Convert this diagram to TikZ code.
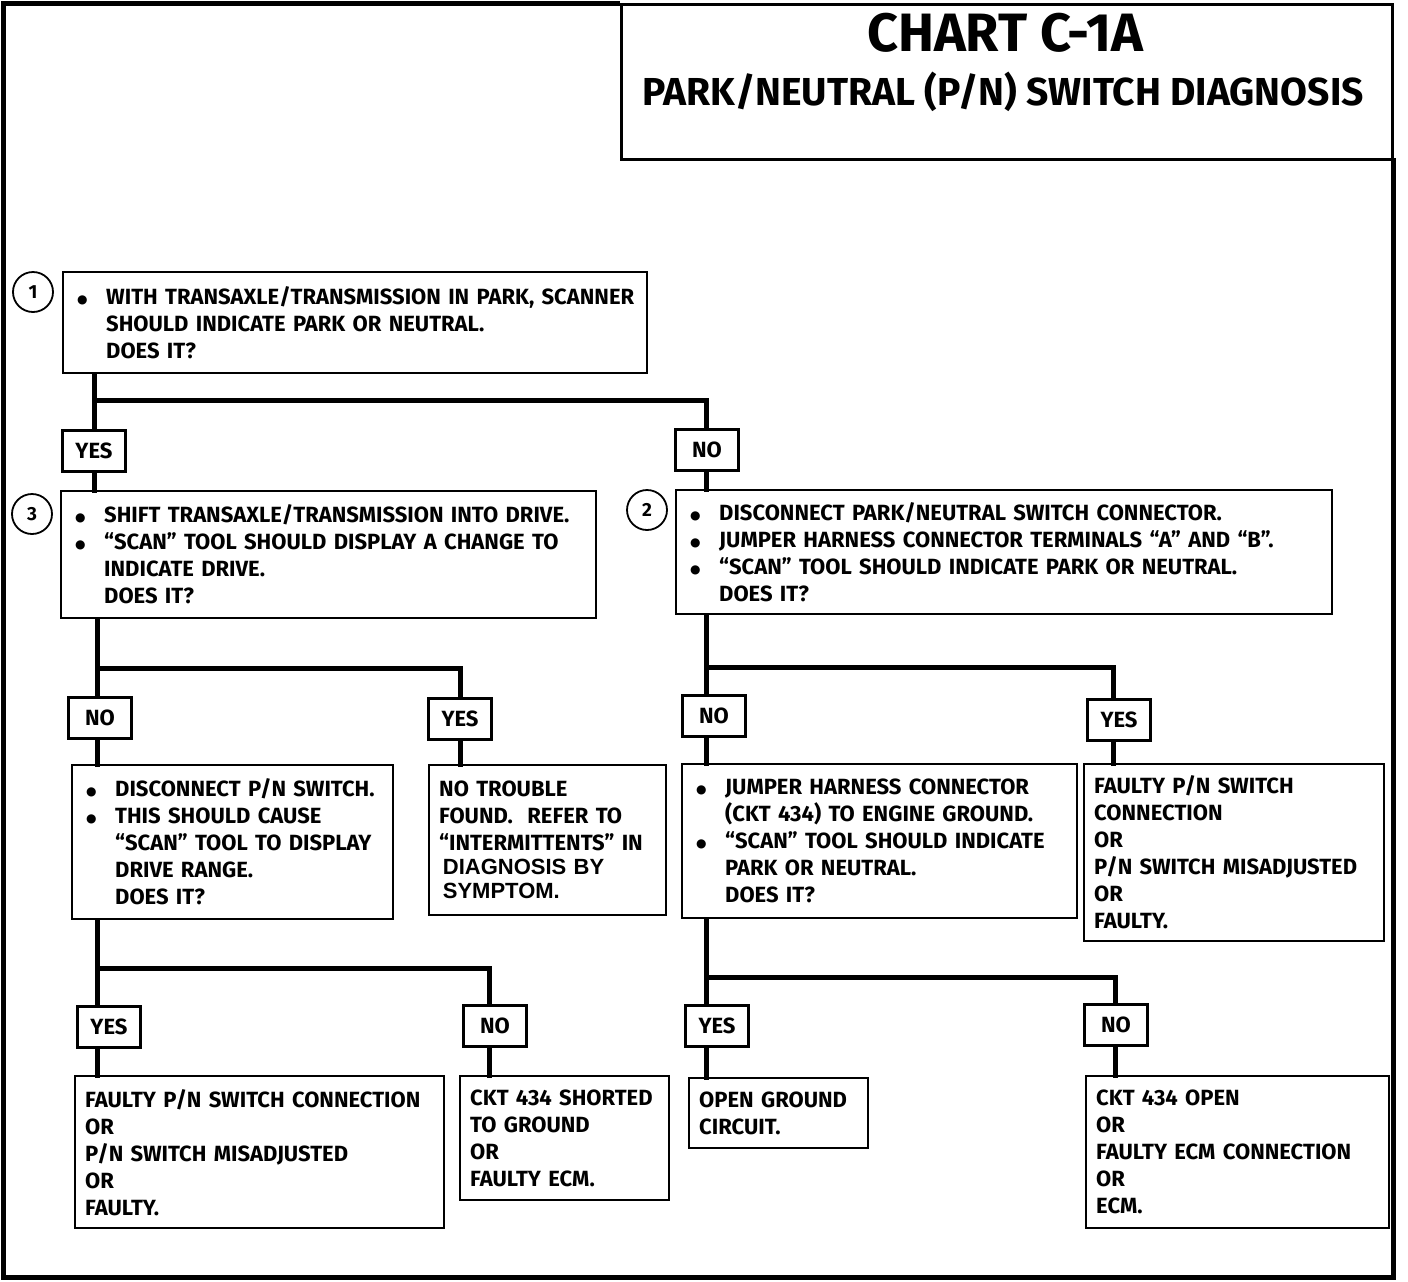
\documentclass[tikz,border=0pt]{standalone}
\usepackage{fontspec}
\setmainfont{Fira Sans}
\newfontfamily\bodyf{Fira Sans}
\newfontfamily\arialf{Liberation Sans}
\newfontfamily\dotf{DejaVu Sans}
\newcommand\bul{\makebox[33pt][l]{\hspace{4pt}\raisebox{1pt}{\dotf\fontsize{12}{12}\selectfont ●}}}
\newcommand\ind{\hspace*{33pt}}
\begin{document}
\begin{tikzpicture}[x=1pt,y=-1pt,
  box/.style={draw, line width=2.4pt, anchor=north west, align=left, inner xsep=10pt, inner ysep=0pt,
    font=\bodyf\bfseries\fontsize{22}{27}\selectfont},
  lab/.style={draw, line width=2.4pt, minimum width=63pt, minimum height=41pt, inner sep=0pt,
    font=\bodyf\bfseries\fontsize{22}{24}\selectfont},
  circ/.style={draw, circle, line width=1.8pt, minimum size=40pt, inner sep=0pt,
    font=\bodyf\bfseries\fontsize{19}{19}\selectfont},
  conn/.style={line width=5pt, line cap=rect},
  frame/.style={line width=5pt}]
\useasboundingbox (0,0) rectangle (1408,1282);
% outer frame and title
\draw[frame] (620,3) -- (3,3) -- (3,1277) -- (1393,1277) -- (1393,158);
\node[draw, line width=3pt, anchor=north west, minimum width=771pt, minimum height=155pt, inner sep=0pt] (title) at (620,3) {};
\node[font=\bodyf\bfseries\fontsize{54}{54}\selectfont] (t1) at (1005,33) {CHART C-1A};
\node[font=\bodyf\bfseries\fontsize{39}{39}\selectfont] (t2) at (1003,92) {PARK/NEUTRAL (P/N) SWITCH DIAGNOSIS};

% circles
\node[circ] (c1) at (33,292) {1};
\node[circ] (c3) at (32,514) {3};
\node[circ] (c2) at (647,510) {2};

% boxes
\node[box, minimum width=584pt, minimum height=101pt, text width=564pt] (b1) at (62,271)
 {\bul WITH TRANSAXLE/TRANSMISSION IN PARK, SCANNER\\ \ind SHOULD INDICATE PARK OR NEUTRAL.\\ \ind DOES IT?};
\node[box, minimum width=535pt, minimum height=127pt, text width=515pt] (b3) at (60,490)
 {\bul SHIFT TRANSAXLE/TRANSMISSION INTO DRIVE.\\ \bul “SCAN” TOOL SHOULD DISPLAY A CHANGE TO\\ \ind INDICATE DRIVE.\\ \ind DOES IT?};
\node[box, minimum width=656pt, minimum height=124pt, text width=636pt] (b2) at (675,489)
 {\bul DISCONNECT PARK/NEUTRAL SWITCH CONNECTOR.\\ \bul JUMPER HARNESS CONNECTOR TERMINALS “A” AND “B”.\\ \bul “SCAN” TOOL SHOULD INDICATE PARK OR NEUTRAL.\\ \ind DOES IT?};
\node[box, minimum width=321pt, minimum height=154pt, text width=301pt] (b4) at (71,764)
 {\bul DISCONNECT P/N SWITCH.\\ \bul THIS SHOULD CAUSE\\ \ind “SCAN” TOOL TO DISPLAY\\ \ind DRIVE RANGE.\\ \ind DOES IT?};
\node[box, minimum width=237pt, minimum height=150pt, text width=217pt] (b5) at (428,764)
 {NO TROUBLE\\ FOUND.\ \ REFER TO\\ “INTERMITTENTS” IN\\[-3pt] {\arialf\fontsize{22}{24}\selectfont\,DIAGNOSIS BY}\\[-3pt] {\arialf\fontsize{22}{24}\selectfont\,SYMPTOM.}};
\node[box, minimum width=395pt, minimum height=154pt, text width=375pt] (b8) at (681,763)
 {\bul JUMPER HARNESS CONNECTOR\\ \ind (CKT 434) TO ENGINE GROUND.\\ \bul “SCAN” TOOL SHOULD INDICATE\\ \ind PARK OR NEUTRAL.\\ \ind DOES IT?};
\node[box, minimum width=300pt, minimum height=177pt, text width=280pt] (b9) at (1083,763)
 {FAULTY P/N SWITCH\\ CONNECTION\\ OR\\ P/N SWITCH MISADJUSTED\\ OR\\ FAULTY.};
\node[box, minimum width=369pt, minimum height=152pt, text width=349pt] (b6) at (74,1075)
 {FAULTY P/N SWITCH CONNECTION\\ OR\\ P/N SWITCH MISADJUSTED\\ OR\\ FAULTY.};
\node[box, minimum width=209pt, minimum height=124pt, text width=189pt] (b7) at (459,1075)
 {CKT 434 SHORTED\\ TO GROUND\\ OR\\ FAULTY ECM.};
\node[box, minimum width=179pt, minimum height=70pt, text width=159pt] (b10) at (688,1077)
 {OPEN GROUND\\ CIRCUIT.};
\node[box, minimum width=303pt, minimum height=152pt, text width=283pt] (b11) at (1085,1075)
 {CKT 434 OPEN\\ OR\\ FAULTY ECM CONNECTION\\ OR\\ ECM.};

% yes/no labels
\node[lab] (yA) at (94,451) {YES};
\node[lab] (nA) at (707,450) {NO};
\node[lab] (nB) at (100,718) {NO};
\node[lab] (yB) at (460,719) {YES};
\node[lab] (nC) at (714,716) {NO};
\node[lab] (yC) at (1119,720) {YES};
\node[lab] (yD) at (109,1027) {YES};
\node[lab] (nD) at (495,1026) {NO};
\node[lab] (yE) at (717,1026) {YES};
\node[lab] (nE) at (1116,1025) {NO};

% junctions
\coordinate (jA) at (94,400);
\coordinate (kA) at (706,400);
\coordinate (jB) at (97,668);
\coordinate (kB) at (460,668);
\coordinate (jC) at (706,667);
\coordinate (kC) at (1113,667);
\coordinate (jD) at (97,968);
\coordinate (kD) at (489,968);
\coordinate (jE) at (706,977);
\coordinate (kE) at (1115,977);

% connectors
\draw[conn] (b1.south -| jA) -- (jA) -- (kA) -- (nA.north -| kA);
\draw[conn] (jA) -- (yA.north -| jA);
\draw[conn] (yA.south -| jA) -- (b3.north -| jA);
\draw[conn] (nA.south -| kA) -- (b2.north -| kA);

\draw[conn] (b3.south -| jB) -- (jB) -- (kB) -- (yB.north -| kB);
\draw[conn] (jB) -- (nB.north -| jB);
\draw[conn] (nB.south -| jB) -- (b4.north -| jB);
\draw[conn] (yB.south -| kB) -- (b5.north -| kB);

\draw[conn] (b2.south -| jC) -- (jC) -- (kC) -- (yC.north -| kC);
\draw[conn] (jC) -- (nC.north -| jC);
\draw[conn] (nC.south -| jC) -- (b8.north -| jC);
\draw[conn] (yC.south -| kC) -- (b9.north -| kC);

\draw[conn] (b4.south -| jD) -- (jD) -- (kD) -- (nD.north -| kD);
\draw[conn] (jD) -- (yD.north -| jD);
\draw[conn] (yD.south -| jD) -- (b6.north -| jD);
\draw[conn] (nD.south -| kD) -- (b7.north -| kD);

\draw[conn] (b8.south -| jE) -- (jE) -- (kE) -- (nE.north -| kE);
\draw[conn] (jE) -- (yE.north -| jE);
\draw[conn] (yE.south -| jE) -- (b10.north -| jE);
\draw[conn] (nE.south -| kE) -- (b11.north -| kE);
\end{tikzpicture}
\end{document}
